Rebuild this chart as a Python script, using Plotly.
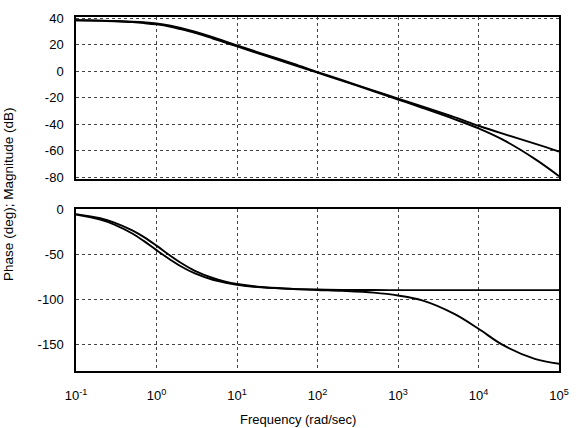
import plotly.graph_objects as go
from plotly.subplots import make_subplots

freq = [0.1, 0.2, 0.3, 0.5, 0.7, 1, 1.5, 2, 3, 5, 7, 10, 20, 50, 100, 200,
        500, 1000, 2000, 5000, 10000, 20000, 50000, 100000]

mag_a = [38.5, 38.3, 38.0, 37.5, 37.0, 36.2, 34.5, 32.8, 30.0, 25.8, 22.8, 19.6,
         13.6, 5.8, -0.5, -6.5, -14.5, -20.5, -26.5, -34.5, -41.0, -47.0, -54.5, -60.5]
mag_b = [38.5, 38.2, 37.8, 37.1, 36.4, 35.4, 33.6, 31.8, 29.0, 24.8, 21.9, 18.8,
         12.8, 5.0, -1.0, -7.0, -15.0, -21.2, -27.5, -36.0, -43.0, -51.5, -66.0, -79.0]

phase_a = [-6.0, -11.5, -17.0, -27.0, -35.5, -45.5, -56.5, -63.5, -71.5, -78.5, -81.5,
           -84.0, -87.0, -88.8, -89.4, -89.7, -89.9, -90.0, -90.0, -90.0, -90.0,
           -90.0, -90.0, -90.0]
phase_b = [-5.5, -10.0, -14.8, -23.5, -31.0, -40.5, -52.0, -59.5, -68.5, -76.5, -80.3,
           -83.2, -86.6, -88.6, -89.8, -90.8, -92.8, -96.0, -101.5, -116.5, -133.0,
           -151.0, -166.5, -172.0]

mag_ticks = [40, 20, 0, -20, -40, -60, -80]
mag_labels = ["40", "20", "0", "-20", "-40", "-60", "-80"]
phase_ticks = [0, -50, -100, -150]
phase_labels = ["0", "-50", "-100", "-150"]
x_tickvals = [0.1, 1, 10, 100, 1000, 10000, 100000]
x_ticktext = ["10<sup>-1</sup>", "10<sup>0</sup>", "10<sup>1</sup>", "10<sup>2</sup>",
              "10<sup>3</sup>", "10<sup>4</sup>", "10<sup>5</sup>"]

fig = make_subplots(rows=2, cols=1, shared_xaxes=False, vertical_spacing=0.086)

line_style = dict(color="black", width=1.9, shape="spline")
fig.add_trace(go.Scatter(x=freq, y=mag_a, mode="lines", line=line_style), row=1, col=1)
fig.add_trace(go.Scatter(x=freq, y=mag_b, mode="lines", line=line_style), row=1, col=1)
fig.add_trace(go.Scatter(x=freq, y=phase_a, mode="lines", line=line_style), row=2, col=1)
fig.add_trace(go.Scatter(x=freq, y=phase_b, mode="lines", line=line_style), row=2, col=1)

axis_common = dict(showline=True, mirror=True, linecolor="black", linewidth=1.5,
                   showgrid=True, gridcolor="#444444", griddash="dot", gridwidth=1,
                   zeroline=False, ticks="", tickfont=dict(size=13, color="black"))

fig.update_xaxes(type="log", range=[-1, 5], tickvals=x_tickvals, **axis_common)
fig.update_xaxes(showticklabels=False, row=1, col=1)
fig.update_xaxes(ticktext=x_ticktext, ticklabelstandoff=12, row=2, col=1)
fig.update_yaxes(**axis_common)
fig.update_yaxes(range=[-81, 41], tickvals=mag_ticks, ticktext=mag_labels,
                 ticklabelstandoff=8, row=1, col=1)
fig.update_yaxes(range=[-180, 0], tickvals=phase_ticks, ticktext=phase_labels,
                 ticklabelstandoff=8, row=2, col=1)

fig.update_layout(
    width=579, height=428,
    margin=dict(l=76, r=12, t=10, b=57),
    plot_bgcolor="white", paper_bgcolor="white",
    showlegend=False,
    font=dict(family="Liberation Sans, Arial, sans-serif", color="black"),
    annotations=[
        dict(text="Frequency (rad/sec)", xref="paper", yref="paper",
             x=0.46, y=-0.137, xanchor="center", yanchor="middle",
             showarrow=False, font=dict(size=13)),
        dict(text="Phase (deg); Magnitude (dB)", xref="paper", yref="paper",
             x=-0.141, y=0.5, xanchor="center", yanchor="middle", textangle=-90,
             showarrow=False, font=dict(size=13.5)),
    ],
)

fig.write_html("out.html")
